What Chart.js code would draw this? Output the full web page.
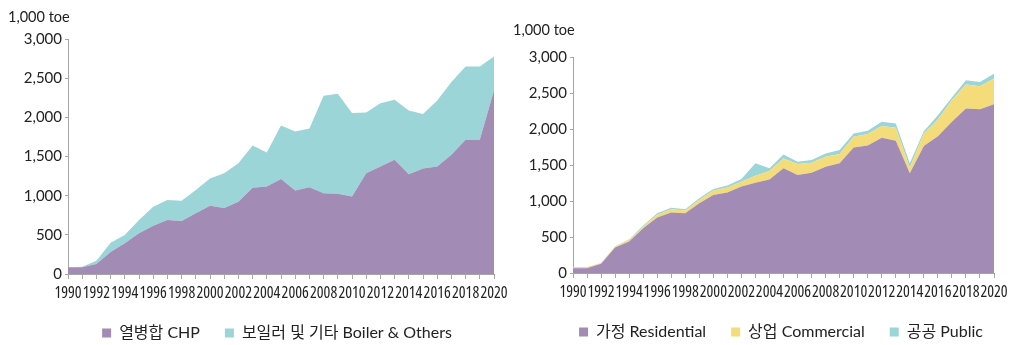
<!DOCTYPE html>
<html lang="ko">
<head>
<meta charset="utf-8">
<title>지역난방 열공급 및 부문별 공급</title>
<script src="https://cdn.jsdelivr.net/npm/chart.js@4.4.1/dist/chart.umd.min.js"></script>
<style>
    html, body { margin: 0; padding: 0; background: #fff; overflow: hidden; }
    body { width: 1019px; height: 345px; position: relative; font-family: Lato, "Noto Sans CJK KR", sans-serif; }
    canvas { position: absolute; top: 0; }
    #supply-chart { left: 0; }
    #sector-chart { left: 509px; }
    .unit { position: absolute; font-size: 14.5px; color: #222; line-height: 1; white-space: nowrap; }
</style>
</head>
<body>
<canvas id="supply-chart" width="554" height="351"></canvas>
<canvas id="sector-chart" width="544" height="350"></canvas>
<div class="unit" style="left:8px; top:10px;">1,000 toe</div>
<div class="unit" style="left:513px; top:23px;">1,000 toe</div>

<script>
// Years on the x axis (labels shown every second year)
const years = [
    '1990', '1991', '1992', '1993', '1994', '1995', '1996', '1997', '1998', '1999',
    '2000', '2001', '2002', '2003', '2004', '2005', '2006', '2007', '2008', '2009',
    '2010', '2011', '2012', '2013', '2014', '2015', '2016', '2017', '2018', '2019', '2020'
];

// Supply by source (1,000 toe)
const chpValues = [
    85, 85, 128, 280, 391, 519, 617, 689, 677, 774,
    872, 843, 923, 1100, 1116, 1214, 1065, 1108, 1031, 1023,
    988, 1287, 1372, 1457, 1274, 1346, 1372, 1521, 1713, 1713, 2343
];
const boilerValues = [
    0, 9, 42, 120, 107, 170, 243, 256, 259, 298,
    348, 442, 492, 540, 435, 682, 754, 750, 1244, 1278,
    1066, 775, 809, 767, 814, 695, 844, 929, 937, 937, 435
];

// Supply by sector (1,000 toe)
const residentialValues = [
    65, 65, 129, 355, 438, 623, 770, 840, 830, 970,
    1085, 1117, 1200, 1255, 1300, 1454, 1361, 1394, 1477, 1523,
    1744, 1772, 1878, 1837, 1384, 1763, 1901, 2100, 2284, 2275, 2344
];
const commercialValues = [
    18, 18, 9, 14, 23, 23, 38, 46, 38, 45,
    60, 69, 69, 97, 117, 138, 153, 138, 138, 129,
    148, 157, 162, 180, 79, 175, 231, 300, 333, 319, 356
];
const publicValues = [
    0, 0, 2, 3, 9, 14, 22, 19, 18, 23,
    23, 28, 37, 171, 37, 55, 32, 37, 46, 55,
    46, 46, 60, 60, 60, 32, 60, 37, 60, 60, 69
];

const yMax = 3000;
const yStep = 500;

// Series colours
const colors = {
    purple: 'rgb(162, 139, 181)',
    cyan: 'rgb(155, 213, 216)',
    yellow: 'rgb(245, 220, 122)'
};

const axisColor = '#a6a6a6';
const textColor = '#222';
// 'condensed' goes into the weight slot so it lands before the size in the font shorthand
const tickFont = { family: '"Open Sans", sans-serif', weight: 'condensed', size: 16 };
const valueFont = { family: 'Lato, sans-serif', size: 15 };
const legendFont = { family: 'Lato, "Noto Sans CJK KR", sans-serif', size: 16 };

function areaDataset(label, data, color, index) {
    return {
        label: label,
        data: data,
        backgroundColor: color,
        borderColor: color,
        borderWidth: 0,
        pointRadius: 0,
        pointHoverRadius: 0,
        tension: 0,
        fill: index === 0 ? 'origin' : '-1'
    };
}

// Build one stacked area chart; box holds the per-chart layout numbers
function createAreaChart(canvasId, series, box) {
    const ctx = document.getElementById(canvasId).getContext('2d');
    return new Chart(ctx, {
        type: 'line',
        data: {
            labels: years,
            datasets: series.map((s, i) => areaDataset(s.label, s.data, s.color, i))
        },
        options: {
            responsive: false,
            animation: false,
            devicePixelRatio: 1,
            layout: {
                padding: { top: box.top, left: 0, right: 0, bottom: 0 }
            },
            plugins: {
                tooltip: { enabled: false },
                legend: {
                    position: 'bottom',
                    labels: {
                        boxWidth: 9,
                        boxHeight: 9,
                        padding: 25,
                        color: textColor,
                        font: legendFont
                    }
                }
            },
            scales: {
                x: {
                    offset: false,
                    grid: {
                        display: true,
                        drawOnChartArea: false,
                        drawTicks: true,
                        tickLength: 5,
                        color: axisColor
                    },
                    border: { display: true, color: axisColor, width: 1 },
                    ticks: {
                        autoSkip: false,
                        maxRotation: 0,
                        minRotation: 0,
                        padding: 5,
                        color: textColor,
                        font: tickFont,
                        callback: (value, index) => (index % 2 === 0 ? years[index] : '')
                    },
                    afterFit: scale => { scale.height = 26; }
                },
                y: {
                    stacked: true,
                    min: 0,
                    max: yMax,
                    grid: {
                        display: true,
                        drawOnChartArea: false,
                        drawTicks: true,
                        tickLength: 3,
                        color: axisColor
                    },
                    border: { display: true, color: axisColor, width: 1 },
                    ticks: {
                        stepSize: yStep,
                        padding: 3,
                        color: textColor,
                        font: valueFont
                    },
                    afterFit: scale => { scale.width = box.yWidth; }
                },
                // empty right-hand gutter so the legend stays centred under the plot
                gutter: {
                    position: 'right',
                    display: true,
                    grid: { display: false },
                    border: { display: false },
                    ticks: { display: false },
                    afterFit: scale => { scale.width = box.gutter; }
                }
            }
        }
    });
}

createAreaChart('supply-chart', [
    { label: '열병합 CHP', data: chpValues, color: colors.purple },
    { label: '보일러 및 기타 Boiler & Others', data: boilerValues, color: colors.cyan }
], { top: 39, yWidth: 68, gutter: 60 });

createAreaChart('sector-chart', [
    { label: '가정 Residential', data: residentialValues, color: colors.purple },
    { label: '상업 Commercial', data: commercialValues, color: colors.yellow },
    { label: '공공 Public', data: publicValues, color: colors.cyan }
], { top: 57, yWidth: 64, gutter: 59 });
</script>
</body>
</html>
